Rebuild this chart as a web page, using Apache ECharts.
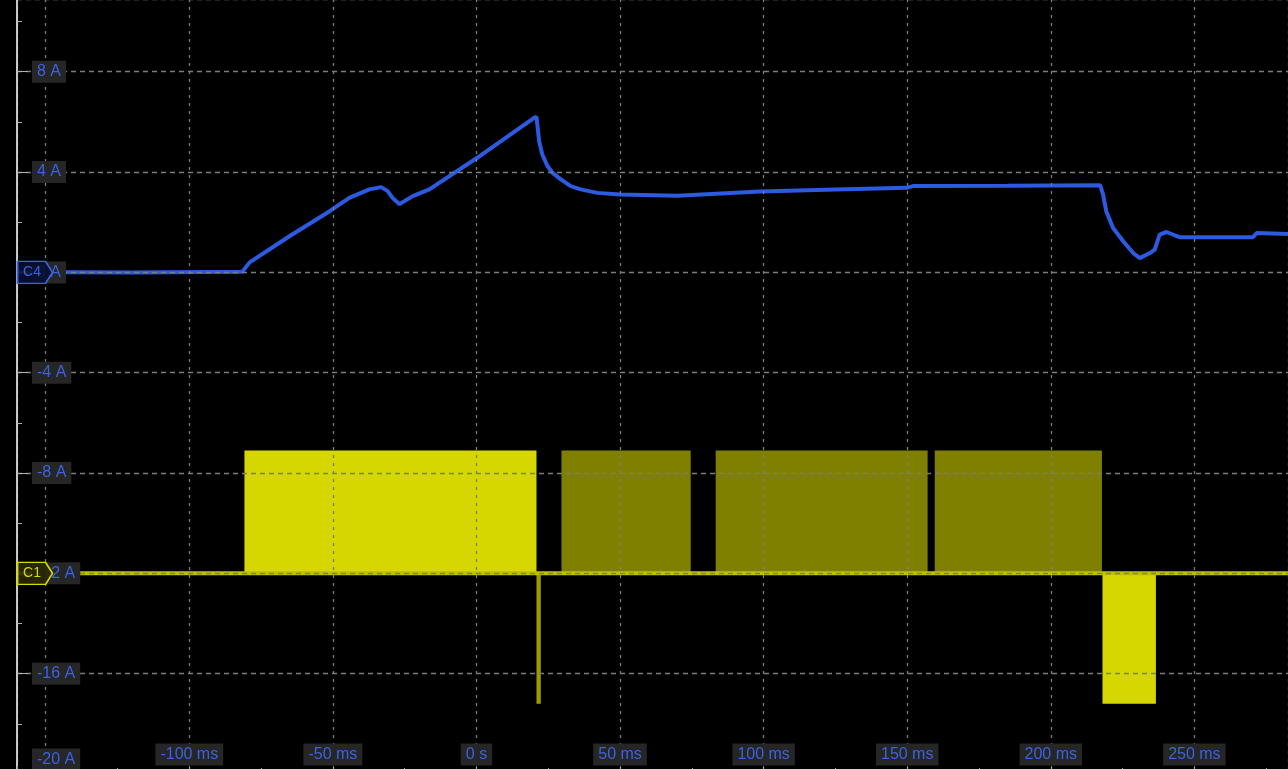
<!DOCTYPE html>
<html><head><meta charset="utf-8">
<script src="https://cdn.jsdelivr.net/npm/echarts@6/dist/echarts.min.js"></script>
<style>html,body{margin:0;padding:0;background:#000;overflow:hidden}#c{width:1288px;height:769px}</style>
</head><body><div id="c"></div>
<script>
// ---- tick labels ----
const xTickValues = [-100, -50, 0, 50, 100, 150, 200, 250];
const xTickLabels = ['-100 ms', '-50 ms', '0 s', '50 ms', '100 ms', '150 ms', '200 ms', '250 ms'];
const yTickValues = [-20, -16, -12, -8, -4, 0, 4, 8];
const yTickLabels = ['-20 A', '-16 A', '-12 A', '-8 A', '-4 A', '0 A', '4 A', '8 A'];

// ---- C4 current trace [ms, A] ----
const c4Current = [
  [-160, 0.02], [-120, 0.0], [-81.5, 0.03], [-79, 0.4], [-65, 1.45], [-51, 2.45],
  [-44.3, 2.97], [-37.3, 3.31], [-33.2, 3.4], [-31, 3.25], [-29.2, 2.97], [-26.8, 2.72],
  [-22.2, 3.04], [-16.4, 3.31], [0, 4.55], [20.2, 6.17], [20.9, 6.2], [21.3, 5.8],
  [21.8, 5.24], [22.9, 4.71], [24.7, 4.24], [26.5, 3.97], [29.4, 3.71], [32.8, 3.44],
  [36.3, 3.31], [42.1, 3.17], [50, 3.11], [70, 3.06], [98.6, 3.22], [125, 3.3],
  [149.8, 3.37], [152, 3.44], [185, 3.45], [217.2, 3.47], [218.2, 3.11], [219.3, 2.44],
  [221.7, 1.77], [225.2, 1.24], [228.7, 0.77], [231, 0.57], [234.5, 0.77], [236.2, 0.91],
  [237.9, 1.51], [240.3, 1.61], [243.2, 1.48], [245, 1.4], [270.4, 1.4], [271.7, 1.57],
  [282.6, 1.53]
];

// ---- C1 current: baseline and filled switching envelopes [t0, t1, low, high] ----
const c1Baseline = [[-160, -12], [282.6, -12]];
const c1BrightBlocks = [[-80.8, 20.9, -12, -7.1], [218.0, 236.6, -17.2, -12]];
const c1DimBlocks = [[29.6, 74.6, -12, -7.1], [83.3, 157.1, -12, -7.1], [159.6, 217.8, -12, -7.1]];
const c1Spike = [[20.9, 22.4, -17.2, -12]];

const chart = echarts.init(document.getElementById('c'), null, { renderer: 'canvas' });

const FONT = 'Liberation Sans';
const labelRich = {
  b: { color: '#3b62e0', backgroundColor: '#262626', padding: [3, 5, 3, 5], fontSize: 16, fontFamily: FONT, lineHeight: 17 },
  // bottom-most label is pushed up so that it stays inside the view
  c: { color: '#3b62e0', backgroundColor: '#262626', padding: [3, 5, 32, 5], fontSize: 16, fontFamily: FONT, lineHeight: 17 }
};

function blockRender(color) {
  return function (params, api) {
    const p0 = api.coord([api.value(0), api.value(3)]);
    const p1 = api.coord([api.value(1), api.value(2)]);
    return {
      type: 'rect',
      shape: { x: p0[0], y: p0[1], width: p1[0] - p0[0], height: p1[1] - p0[1] },
      style: { fill: color }
    };
  };
}

function tagPath() { return 'path://M0,0 L28,0 L35,11 L28,22 L0,22 Z'; }

chart.setOption({
  backgroundColor: '#000',
  animation: false,
  grid: { left: 17, right: 0, top: -1, bottom: -5, containLabel: false, outerBoundsMode: 'none' },
  xAxis: {
    type: 'value', min: -160, max: 282.6, minInterval: 50, maxInterval: 50, z: 3,
    axisLine: { show: false, onZero: false },
    axisTick: { show: true, inside: true, length: 8, lineStyle: { color: '#9a9a9a' } },
    minorTick: { show: true, splitNumber: 2, length: 6, lineStyle: { color: '#9a9a9a' } },
    splitLine: { show: true, lineStyle: { color: '#7c7c7c', width: 1.3, type: [3, 5] } },
    axisLabel: {
      inside: true, margin: 11, rich: labelRich,
      formatter: function (v) {
        const i = xTickValues.indexOf(Math.round(v * 100) / 100);
        return i < 0 ? '' : '{b|' + xTickLabels[i] + '}';
      }
    }
  },
  yAxis: {
    type: 'value', min: -20, max: 10.9, interval: 4, z: 3,
    axisLine: { show: true, onZero: false, lineStyle: { color: '#c8c8c8', width: 2 } },
    axisTick: { show: true, inside: true, length: 11, lineStyle: { color: '#b0b0b0' } },
    minorTick: { show: true, splitNumber: 2, length: 5, lineStyle: { color: '#b0b0b0' } },
    splitLine: { show: true, lineStyle: { color: '#7c7c7c', width: 1.3, type: [5, 4] } },
    axisLabel: {
      inside: true, margin: 15, rich: labelRich, verticalAlign: 'middle',
      formatter: function (v) {
        const i = yTickValues.indexOf(Math.round(v * 100) / 100);
        if (i < 0) return '';
        return (i === 0 ? '{c|' : '{b|') + yTickLabels[i] + '}';
      }
    }
  },
  series: [
    {
      name: 'C1 bright', type: 'custom', renderItem: blockRender('#d6d600'),
      encode: { x: [0, 1], y: [2, 3] }, data: c1BrightBlocks, z: 1
    },
    {
      name: 'C1 dim', type: 'custom', renderItem: blockRender('#808000'),
      encode: { x: [0, 1], y: [2, 3] }, data: c1DimBlocks, z: 1
    },
    {
      name: 'C1 spike', type: 'custom', renderItem: blockRender('#9c9c00'),
      encode: { x: [0, 1], y: [2, 3] }, data: c1Spike, z: 1
    },
    {
      name: 'C1', type: 'line', data: c1Baseline, showSymbol: false, z: 2,
      lineStyle: { color: '#c0c000', width: 4 },
      markPoint: {
        symbol: tagPath(), symbolSize: [35, 22], symbolOffset: [18, 0], symbolKeepAspect: false,
        itemStyle: { color: 'rgba(40,40,0,0.9)', borderColor: '#d8d800', borderWidth: 1.5 },
        label: { show: true, position: 'inside', formatter: 'C1', color: '#d8d800', fontSize: 14, fontFamily: FONT, offset: [-3, 0] },
        data: [{ coord: [-160, -12] }]
      }
    },
    {
      name: 'C4', type: 'line', data: c4Current, showSymbol: false, z: 2,
      lineStyle: { color: '#2c5ae0', width: 4 },
      markPoint: {
        symbol: tagPath(), symbolSize: [35, 22], symbolOffset: [18, 0], symbolKeepAspect: false,
        itemStyle: { color: 'rgba(8,16,48,0.9)', borderColor: '#3a64e0', borderWidth: 1.5 },
        label: { show: true, position: 'inside', formatter: 'C4', color: '#3a64e0', fontSize: 14, fontFamily: FONT, offset: [-3, 0] },
        data: [{ coord: [-160, 0] }]
      }
    }
  ]
});
</script>
</body></html>
